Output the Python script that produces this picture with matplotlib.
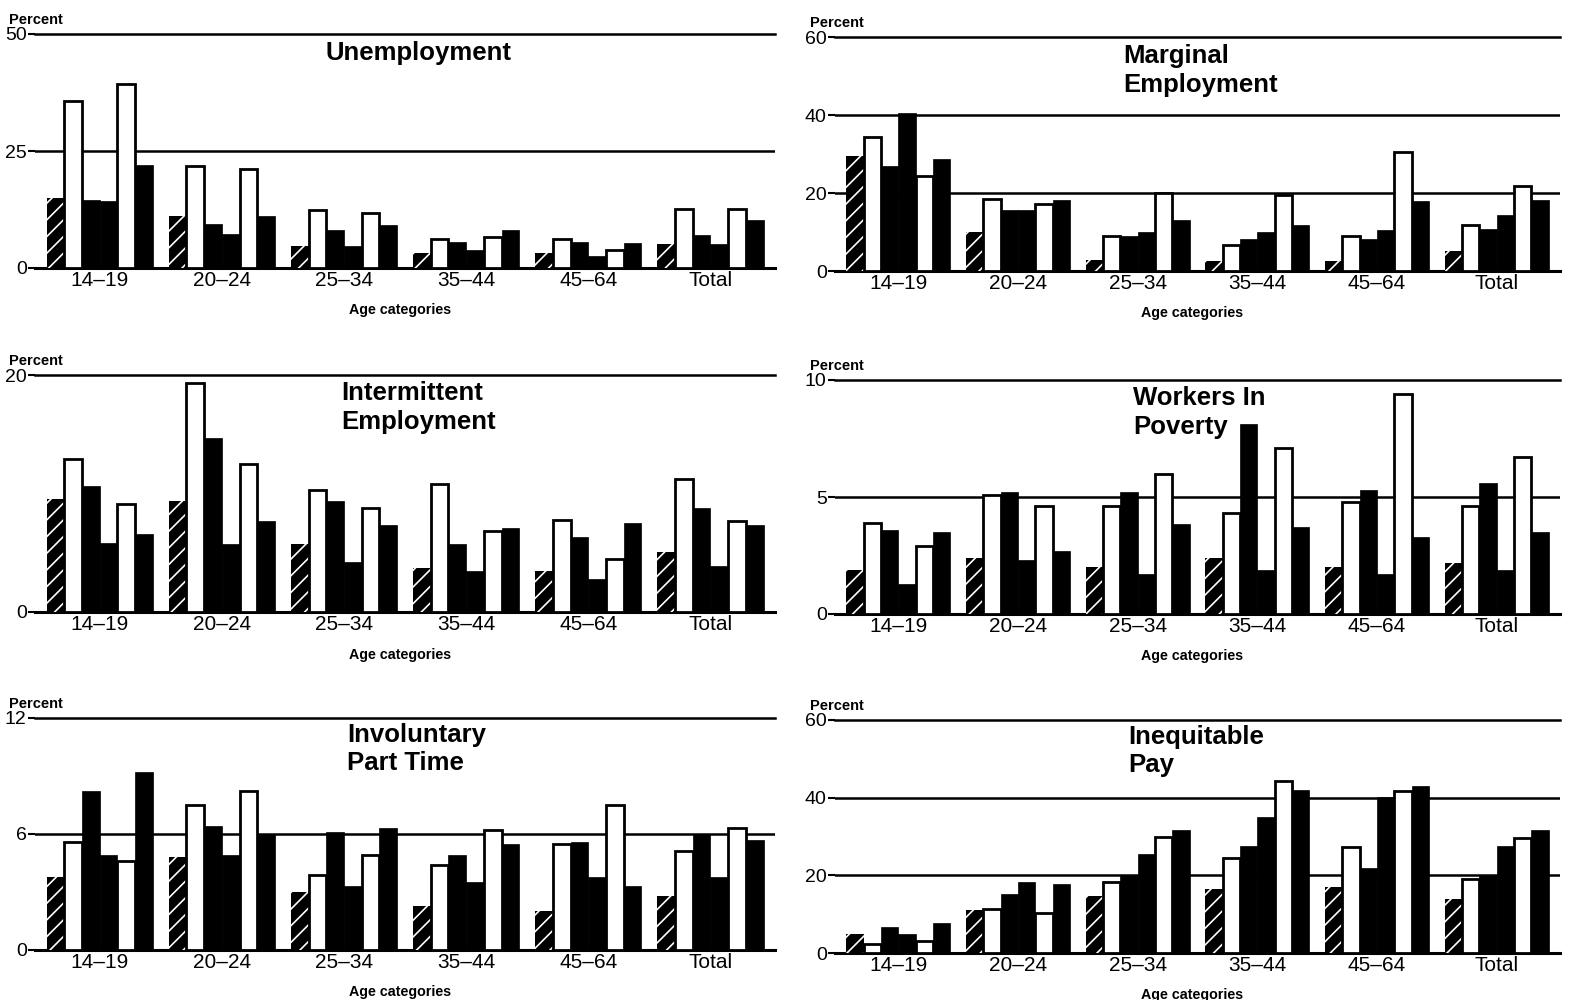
import numpy as np
import matplotlib
matplotlib.use("Agg")
import matplotlib.pyplot as plt

plt.rcParams['font.family'] = ['Liberation Sans', 'DejaVu Sans']
plt.rcParams['hatch.linewidth'] = 1.2

groups = ["14\u201319", "20\u201324", "25\u201334", "35\u201344", "45\u201364", "Total"]

# six bars per age group, left to right (hatched, white, black, black, white, black)
unemployment = [[14.9, 35.7, 14.5, 14.3, 39.4, 22.0],
                [11.2, 21.7, 9.3, 7.2, 21.1, 11.1],
                [4.7, 12.5, 8.1, 4.7, 11.8, 9.1],
                [3.2, 6.3, 5.5, 3.8, 6.6, 8.1],
                [3.1, 6.1, 5.5, 2.6, 3.9, 5.4],
                [5.2, 12.6, 7.0, 5.2, 12.7, 10.2]]
marginal = [[29.6, 34.4, 27.0, 40.4, 24.4, 28.7],
            [9.9, 18.5, 15.7, 15.6, 17.3, 18.3],
            [2.8, 9.1, 9.1, 10.0, 20.0, 13.0],
            [2.6, 6.6, 8.3, 10.0, 19.5, 11.9],
            [2.6, 8.9, 8.1, 10.6, 30.4, 18.0],
            [5.1, 11.7, 10.8, 14.3, 21.9, 18.1]]
intermittent = [[9.5, 12.9, 10.6, 5.8, 9.1, 6.6],
                [9.4, 19.3, 14.7, 5.7, 12.5, 7.7],
                [5.7, 10.3, 9.4, 4.2, 8.8, 7.3],
                [3.7, 10.8, 5.7, 3.5, 6.8, 7.1],
                [3.5, 7.8, 6.3, 2.8, 4.5, 7.5],
                [5.1, 11.2, 8.8, 3.9, 7.7, 7.3]]
poverty = [[1.9, 3.9, 3.6, 1.3, 2.9, 3.5],
           [2.4, 5.1, 5.2, 2.3, 4.6, 2.7],
           [2.0, 4.6, 5.2, 1.7, 6.0, 3.85],
           [2.4, 4.3, 8.1, 1.9, 7.1, 3.7],
           [2.0, 4.8, 5.3, 1.7, 9.4, 3.3],
           [2.2, 4.6, 5.6, 1.9, 6.7, 3.5]]
part_time = [[3.8, 5.6, 8.2, 4.9, 4.6, 9.2],
             [4.8, 7.5, 6.4, 4.9, 8.2, 6.0],
             [3.0, 3.9, 6.1, 3.3, 4.9, 6.3],
             [2.3, 4.4, 4.9, 3.5, 6.2, 5.5],
             [2.0, 5.5, 5.6, 3.8, 7.5, 3.3],
             [2.8, 5.1, 6.0, 3.8, 6.3, 5.7]]
inequitable = [[5.0, 2.4, 6.8, 4.8, 3.0, 7.8],
               [11.0, 11.3, 15.2, 18.4, 10.3, 17.8],
               [14.8, 18.4, 20.0, 25.6, 30.0, 31.7],
               [16.5, 24.5, 27.6, 35.0, 44.2, 41.9],
               [17.1, 27.4, 21.9, 40.2, 41.6, 43.0],
               [13.9, 19.1, 20.0, 27.6, 29.6, 31.6]]

panels = [
    (unemployment, "Unemployment", [0, 25, 50], [0.0222, 0.732, 0.4687, 0.234], (0.392, 0.97)),
    (marginal, "Marginal\nEmployment", [0, 20, 40, 60], [0.5288, 0.729, 0.4592, 0.234], (0.397, 0.97)),
    (intermittent, "Intermittent\nEmployment", [0, 20], [0.0222, 0.388, 0.4687, 0.237], (0.414, 0.975)),
    (poverty, "Workers In\nPoverty", [0, 5, 10], [0.5288, 0.386, 0.4592, 0.234], (0.411, 0.975)),
    (part_time, "Involuntary\nPart Time", [0, 6, 12], [0.0222, 0.05, 0.4687, 0.232], (0.422, 0.98)),
    (inequitable, "Inequitable\nPay", [0, 20, 40, 60], [0.5288, 0.047, 0.4592, 0.233], (0.404, 0.98)),
]

styles = ["hatch", "white", "black", "black", "white", "black"]
w = 0.145

fig = plt.figure(figsize=(15.79, 10), dpi=100)
for data, title, ticks, rect, tpos in panels:
    ax = fig.add_axes(rect)
    vals = np.array(data)
    x = np.arange(len(groups))
    for j, st in enumerate(styles):
        pos = x + (j - 2.5) * w
        if st == "hatch":
            ax.bar(pos, vals[:, j], w, color="black", edgecolor="white",
                   hatch="//", linewidth=0, zorder=3)
        elif st == "white":
            ax.bar(pos, vals[:, j], w, color="white", edgecolor="black",
                   linewidth=2, zorder=3)
        else:
            ax.bar(pos, vals[:, j], w, color="black", edgecolor="black",
                   linewidth=0.5, zorder=3)
    top = ticks[-1]
    ax.set_ylim(0, top)
    ax.set_xlim(-0.53, 5.53)
    for t in ticks[1:-1]:
        ax.axhline(t, color="black", lw=1.8, zorder=1)
    for s in ["left", "right"]:
        ax.spines[s].set_visible(False)
    ax.spines["top"].set_linewidth(1.8)
    ax.spines["bottom"].set_linewidth(2.2)
    ax.set_yticks(ticks)
    ax.set_yticklabels([str(t) for t in ticks], fontsize=14)
    ax.tick_params(axis="y", length=5, width=1.5, pad=1)
    ax.set_xticks(x)
    ax.set_xticklabels(groups, fontsize=15)
    ax.tick_params(axis="x", length=0, pad=2)
    ax.text(-0.035, 1.03, "Percent", transform=ax.transAxes, fontsize=10.5,
            fontweight="bold", ha="left", va="bottom")
    ax.text(0.493, -0.15, "Age categories", transform=ax.transAxes,
            fontsize=10.3, fontweight="bold", ha="center", va="top")
    ax.text(tpos[0], tpos[1], title, transform=ax.transAxes, fontsize=18.5,
            fontweight="bold", ha="left", va="top", linespacing=1.25)

fig.savefig("out.png", dpi=100)
